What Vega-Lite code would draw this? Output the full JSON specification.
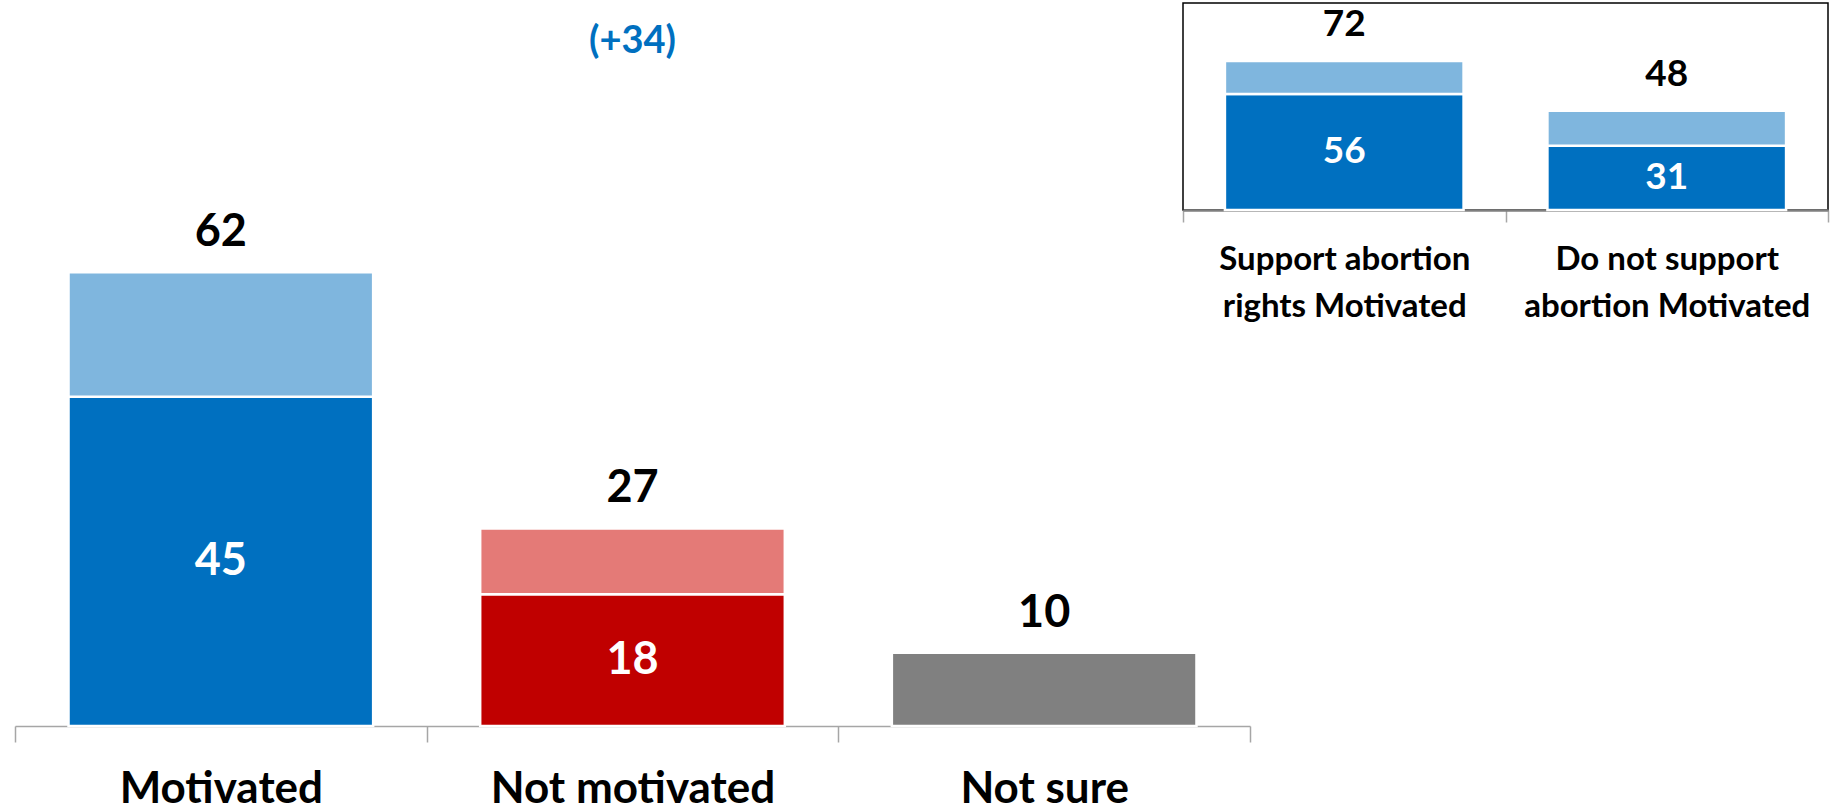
{
  "$schema": "https://vega.github.io/schema/vega-lite/v6.json",
  "padding": {"left": 14, "top": 2, "right": 0, "bottom": 0},
  "background": "white",
  "bounds": "flush",
  "spacing": 0,
  "config": {
    "view": {"stroke": null},
    "font": "Lato",
    "text": {"font": "Lato", "fontWeight": "bold"}
  },
  "datasets": {
    "main": [
      {"cat": "Motivated", "part": "core", "tone": "Blue dark", "value": 45},
      {"cat": "Motivated", "part": "lean", "tone": "Blue light", "value": 17},
      {"cat": "Not motivated", "part": "core", "tone": "Red dark", "value": 18},
      {"cat": "Not motivated", "part": "lean", "tone": "Red light", "value": 9},
      {"cat": "Not sure", "part": "only", "tone": "Gray", "value": 10}
    ],
    "inset": [
      {"cat": "Support abortion rights Motivated", "part": "core", "tone": "Blue dark", "value": 56},
      {"cat": "Support abortion rights Motivated", "part": "lean", "tone": "Blue light", "value": 16},
      {"cat": "Do not support abortion Motivated", "part": "core", "tone": "Blue dark", "value": 31},
      {"cat": "Do not support abortion Motivated", "part": "lean", "tone": "Blue light", "value": 17}
    ],
    "notes": [
      {"cat": "Not motivated", "y": 92, "label": "(+34)"}
    ]
  },
  "hconcat": [
    {
      "width": 1168,
      "height": 723,
      "layer": [
        {
          "data": {"name": "main"},
          "mark": {"type": "bar", "width": {"band": 0.74}, "stroke": "white", "strokeWidth": 2.5},
          "encoding": {
            "x": {
              "field": "cat", "type": "nominal",
              "sort": ["Motivated", "Not motivated", "Not sure"],
              "scale": {"paddingInner": 0, "paddingOuter": 0, "range": [0, 1235]},
              "axis": {
                "title": null, "labelAngle": 0, "tickBand": "extent",
                "domainColor": "#A6A6A6", "domainWidth": 1.5,
                "tickColor": "#A6A6A6", "tickWidth": 1.5, "tickSize": 16,
                "labelFont": "Lato", "labelFontWeight": "bold", "labelFontSize": 44,
                "labelColor": "#000000", "labelPadding": 25, "labelLimit": 600,
                "labelExpr": "datum.value == null ? '' : datum.label"
              }
            },
            "y": {
              "field": "value", "type": "quantitative", "stack": "zero",
              "scale": {"domain": [0, 98.8], "nice": false}, "axis": null
            },
            "color": {
              "field": "tone", "type": "nominal",
              "scale": {
                "domain": ["Blue dark", "Blue light", "Red dark", "Red light", "Gray"],
                "range": ["#0070C0", "#7FB6DE", "#C00000", "#E47A77", "#808080"]
              },
              "legend": null
            },
            "order": {"field": "part", "type": "nominal", "sort": "ascending"}
          }
        },
        {
          "data": {"name": "main"},
          "transform": [
            {"filter": "datum.part == 'core'"},
            {"calculate": "datum.value / 2", "as": "mid"}
          ],
          "mark": {"type": "text", "color": "white", "fontSize": 45, "baseline": "middle"},
          "encoding": {
            "x": {"field": "cat", "type": "nominal", "sort": ["Motivated", "Not motivated", "Not sure"]},
            "y": {"field": "mid", "type": "quantitative"},
            "text": {"field": "value", "type": "quantitative"}
          }
        },
        {
          "data": {"name": "main"},
          "transform": [
            {"aggregate": [{"op": "sum", "field": "value", "as": "total"}], "groupby": ["cat"]}
          ],
          "mark": {"type": "text", "color": "black", "fontSize": 45, "baseline": "alphabetic", "dy": -26},
          "encoding": {
            "x": {"field": "cat", "type": "nominal", "sort": ["Motivated", "Not motivated", "Not sure"]},
            "y": {"field": "total", "type": "quantitative"},
            "text": {"field": "total", "type": "quantitative"}
          }
        },
        {
          "data": {"name": "notes"},
          "mark": {"type": "text", "color": "#0070C0", "fontSize": 38, "baseline": "alphabetic"},
          "encoding": {
            "x": {"field": "cat", "type": "nominal", "sort": ["Motivated", "Not motivated", "Not sure"]},
            "y": {"field": "y", "type": "quantitative"},
            "text": {"field": "label", "type": "nominal"}
          }
        }
      ]
    },
    {
      "width": 645,
      "height": 207,
      "view": {"stroke": "#000000", "strokeWidth": 1.5},
      "layer": [
        {
          "data": {"name": "inset"},
          "mark": {"type": "bar", "width": {"band": 0.74}, "stroke": "white", "strokeWidth": 2.5},
          "encoding": {
            "x": {
              "field": "cat", "type": "nominal",
              "sort": ["Support abortion rights Motivated", "Do not support abortion Motivated"],
              "scale": {"paddingInner": 0, "paddingOuter": 0},
              "axis": {
                "title": null, "labelAngle": 0, "tickBand": "extent",
                "domainColor": "#7F7F7F", "domainWidth": 2.5,
                "tickColor": "#A6A6A6", "tickWidth": 1.5, "tickSize": 12,
                "labelFont": "Lato", "labelFontWeight": "bold", "labelFontSize": 33,
                "labelLineHeight": 47,
                "labelColor": "#000000", "labelPadding": 21, "labelLimit": 600,
                "labelExpr": "datum.value == 'Support abortion rights Motivated' ? ['Support abortion', 'rights Motivated'] : datum.value == 'Do not support abortion Motivated' ? ['Do not support', 'abortion Motivated'] : ''"
              }
            },
            "y": {
              "field": "value", "type": "quantitative", "stack": "zero",
              "scale": {"domain": [0, 100], "nice": false}, "axis": null
            },
            "color": {
              "field": "tone", "type": "nominal",
              "scale": {
                "domain": ["Blue dark", "Blue light"],
                "range": ["#0070C0", "#7FB6DE"]
              },
              "legend": null
            },
            "order": {"field": "part", "type": "nominal", "sort": "ascending"}
          }
        },
        {
          "data": {"name": "inset"},
          "transform": [
            {"filter": "datum.part == 'core'"},
            {"calculate": "datum.value / 2", "as": "mid"}
          ],
          "mark": {"type": "text", "color": "white", "fontSize": 37, "baseline": "middle"},
          "encoding": {
            "x": {"field": "cat", "type": "nominal", "sort": ["Support abortion rights Motivated", "Do not support abortion Motivated"]},
            "y": {"field": "mid", "type": "quantitative"},
            "text": {"field": "value", "type": "quantitative"}
          }
        },
        {
          "data": {"name": "inset"},
          "transform": [
            {"aggregate": [{"op": "sum", "field": "value", "as": "total"}], "groupby": ["cat"]}
          ],
          "mark": {"type": "text", "color": "black", "fontSize": 37, "baseline": "alphabetic", "dy": -25},
          "encoding": {
            "x": {"field": "cat", "type": "nominal", "sort": ["Support abortion rights Motivated", "Do not support abortion Motivated"]},
            "y": {"field": "total", "type": "quantitative"},
            "text": {"field": "total", "type": "quantitative"}
          }
        }
      ]
    }
  ]
}
